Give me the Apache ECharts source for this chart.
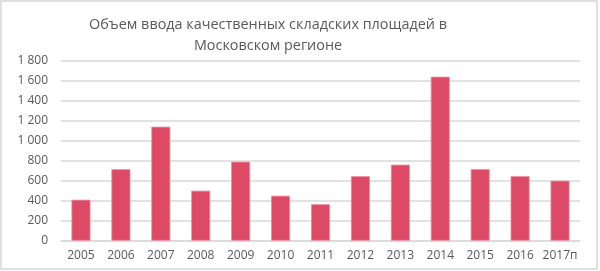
<!DOCTYPE html>
<html>
<head>
<meta charset="utf-8">
<script src="https://cdn.jsdelivr.net/npm/echarts@6/dist/echarts.min.js"></script>
<style>
html,body{margin:0;padding:0;background:#fff;}
#c{width:600px;height:271px;}
</style>
</head>
<body>
<div id="c"></div>
<script>
const categories = ['2005','2006','2007','2008','2009','2010','2011','2012','2013','2014','2015','2016','2017п'];
const values = [410, 715, 1140, 500, 790, 450, 365, 645, 760, 1640, 717, 647, 600];
const yTicks = [0, 200, 400, 600, 800, 1000, 1200, 1400, 1600, 1800];
const titleText = 'Объем ввода качественных складских площадей в\nМосковском регионе';

const chart = echarts.init(document.getElementById('c'), null, {renderer: 'canvas'});
chart.setOption({
  animation: false,
  backgroundColor: '#fff',
  title: {
    text: titleText,
    left: 263,
    top: 9,
    textAlign: 'center',
    textStyle: {
      fontFamily: 'Open Sans',
      fontSize: 14.4,
      fontWeight: 'normal',
      color: '#595959',
      lineHeight: 21,
      align: 'center'
    }
  },
  graphic: [{
    type: 'rect',
    shape: {x: 1, y: 1, width: 596, height: 268},
    style: {fill: 'none', stroke: '#e0e0e0', lineWidth: 2},
    silent: true
  }],
  grid: {left: 61, right: 20, top: 60.7, bottom: 30.3, containLabel: false},
  xAxis: {
    type: 'category',
    data: categories,
    axisLine: {lineStyle: {color: '#d9d9d9', width: 1.5}},
    axisTick: {show: false},
    axisLabel: {
      color: '#595959',
      fontFamily: 'Open Sans',
      fontSize: 12,
      margin: 9,
      interval: 0
    }
  },
  yAxis: {
    type: 'value',
    min: yTicks[0],
    max: yTicks[yTicks.length - 1],
    interval: 200,
    axisLine: {show: false},
    axisTick: {show: false},
    splitLine: {lineStyle: {color: '#d9d9d9', width: 1.5}},
    axisLabel: {
      color: '#595959',
      fontFamily: 'Open Sans',
      fontSize: 12,
      margin: 13,
      formatter: v => String(v).replace(/\B(?=(\d{3})+(?!\d))/g, ' ')
    }
  },
  series: [{
    type: 'bar',
    data: values,
    barWidth: 19,
    itemStyle: {color: '#dc4a65', borderColor: '#ef8da0', borderWidth: 0.8}
  }]
});
</script>
</body>
</html>
